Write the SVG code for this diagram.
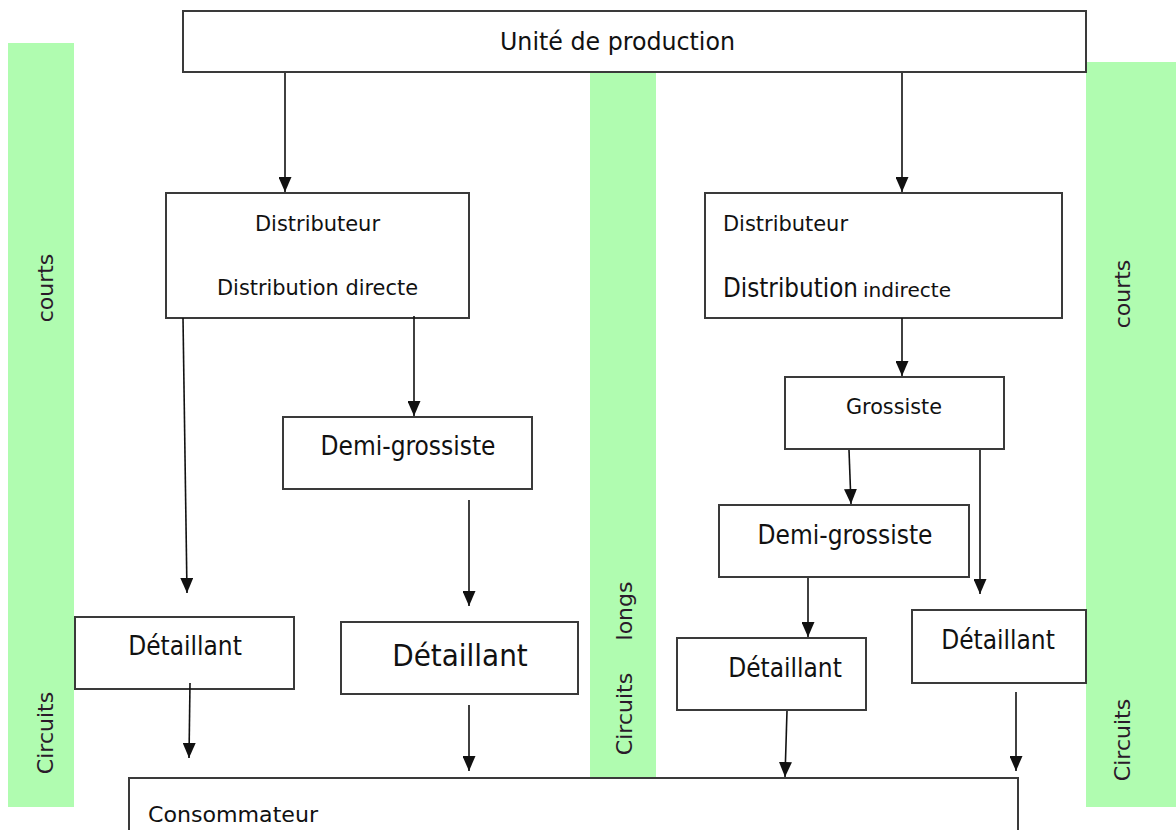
<svg xmlns="http://www.w3.org/2000/svg" width="1176" height="830" viewBox="0 0 1176 830">
  <style>
    .band { fill: #b0fcb0; }
    .box { fill: #ffffff; stroke: #3a3a3a; stroke-width: 2; }
    .lbl { font-family: "DejaVu Sans Condensed", "Liberation Sans Narrow", "Open Sans", sans-serif; font-stretch: condensed; fill: #111; }
    .vert { font-family: "DejaVu Sans", "Liberation Sans", sans-serif; font-size: 22px; fill: #2a1a2a; }
    .edge { stroke: #111; stroke-width: 1.6; fill: none; marker-end: url(#head); }
  </style>
  <defs>
    <marker id="head" markerUnits="userSpaceOnUse" markerWidth="15" markerHeight="13" viewBox="0 0 15 13" refX="15" refY="6.5" orient="auto">
      <path d="M0,0 L15,6.5 L0,13 Z" fill="#111"/>
    </marker>
  </defs>

  <!-- side bands -->
  <g id="band-left">
    <rect class="band" x="8" y="43" width="66" height="764"/>
    <text class="vert" transform="translate(53,288) rotate(-90)" text-anchor="middle">courts</text>
    <text class="vert" transform="translate(53,733) rotate(-90)" text-anchor="middle">Circuits</text>
  </g>
  <g id="band-middle">
    <rect class="band" x="590" y="73" width="66" height="704"/>
    <text class="vert" transform="translate(632,611) rotate(-90)" text-anchor="middle">longs</text>
    <text class="vert" transform="translate(632,714) rotate(-90)" text-anchor="middle">Circuits</text>
  </g>
  <g id="band-right">
    <rect class="band" x="1086" y="62" width="90" height="745"/>
    <text class="vert" transform="translate(1130,294) rotate(-90)" text-anchor="middle">courts</text>
    <text class="vert" transform="translate(1130,740) rotate(-90)" text-anchor="middle">Circuits</text>
  </g>

  <!-- nodes -->
  <g id="production">
    <rect class="box" x="183" y="11" width="903" height="61"/>
    <text class="lbl" x="500" y="50" font-size="25" textLength="235" lengthAdjust="spacingAndGlyphs">Unité de production</text>
  </g>
  <g id="distributeur-direct">
    <rect class="box" x="166" y="193" width="303" height="125"/>
    <text class="lbl" x="255" y="231" font-size="21" textLength="125" lengthAdjust="spacingAndGlyphs">Distributeur</text>
    <text class="lbl" x="217" y="295" font-size="21" textLength="201" lengthAdjust="spacingAndGlyphs">Distribution directe</text>
  </g>
  <g id="distributeur-indirect">
    <rect class="box" x="705" y="193" width="357" height="125"/>
    <text class="lbl" x="723" y="231" font-size="21" textLength="125" lengthAdjust="spacingAndGlyphs">Distributeur</text>
    <text class="lbl" x="723" y="297" font-size="26" textLength="135" lengthAdjust="spacingAndGlyphs">Distribution</text>
    <text class="lbl" x="863" y="297" font-size="20" textLength="88" lengthAdjust="spacingAndGlyphs">indirecte</text>
  </g>
  <g id="demi-grossiste-gauche">
    <rect class="box" x="283" y="417" width="249" height="72"/>
    <text class="lbl" x="408" y="455" font-size="26" text-anchor="middle">Demi-grossiste</text>
  </g>
  <g id="grossiste">
    <rect class="box" x="785" y="377" width="219" height="72"/>
    <text class="lbl" x="846" y="414" font-size="21" textLength="96" lengthAdjust="spacingAndGlyphs">Grossiste</text>
  </g>
  <g id="demi-grossiste-droite">
    <rect class="box" x="719" y="505" width="250" height="72"/>
    <text class="lbl" x="845" y="544" font-size="26" text-anchor="middle">Demi-grossiste</text>
  </g>
  <g id="detaillant-1">
    <rect class="box" x="75" y="617" width="219" height="72"/>
    <text class="lbl" x="185" y="655" font-size="26" text-anchor="middle">Détaillant</text>
  </g>
  <g id="detaillant-2">
    <rect class="box" x="341" y="622" width="237" height="72"/>
    <text class="lbl" x="460" y="666" font-size="31" text-anchor="middle">Détaillant</text>
  </g>
  <g id="detaillant-3">
    <rect class="box" x="677" y="638" width="189" height="72"/>
    <text class="lbl" x="785" y="677" font-size="26" text-anchor="middle">Détaillant</text>
  </g>
  <g id="detaillant-4">
    <rect class="box" x="912" y="610" width="174" height="73"/>
    <text class="lbl" x="998" y="649" font-size="26" text-anchor="middle">Détaillant</text>
  </g>
  <g id="consommateur">
    <rect class="box" x="129" y="778" width="889" height="60"/>
    <text class="lbl" x="148" y="822" font-size="22" textLength="170" lengthAdjust="spacingAndGlyphs">Consommateur</text>
  </g>

  <!-- connectors -->
  <g id="connectors">
    <line class="edge" x1="285" y1="73" x2="285" y2="192"/>
    <line class="edge" x1="902" y1="73" x2="902" y2="192"/>
    <line class="edge" x1="183" y1="318" x2="187" y2="593"/>
    <line class="edge" x1="414" y1="316" x2="414" y2="416"/>
    <line class="edge" x1="469" y1="500" x2="469" y2="606"/>
    <line class="edge" x1="190" y1="683" x2="189" y2="758"/>
    <line class="edge" x1="469" y1="705" x2="469" y2="771"/>
    <line class="edge" x1="902" y1="318" x2="902" y2="376"/>
    <line class="edge" x1="849" y1="450" x2="851" y2="504"/>
    <line class="edge" x1="980" y1="450" x2="980" y2="594"/>
    <line class="edge" x1="808" y1="578" x2="808" y2="637"/>
    <line class="edge" x1="787" y1="711" x2="785" y2="777"/>
    <line class="edge" x1="1016" y1="692" x2="1016" y2="771"/>
  </g>
</svg>
